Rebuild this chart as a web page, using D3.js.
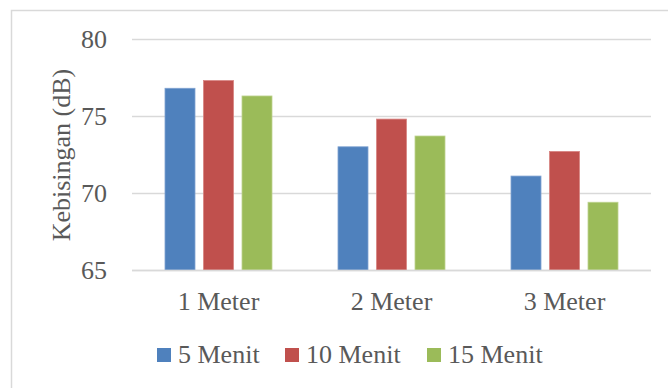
<!DOCTYPE html>
<html>
<head>
<meta charset="utf-8">
<script src="https://cdn.jsdelivr.net/npm/d3@7"></script>
<style>
  html, body { margin: 0; padding: 0; background: #fff; }
  svg { display: block; }
</style>
</head>
<body>
<svg id="chart" width="668" height="388"></svg>
<script>
// Noise level (dB) by distance and measurement duration
const categories = ["1 Meter", "2 Meter", "3 Meter"];
const seriesNames = ["5 Menit", "10 Menit", "15 Menit"];
const menit5 = [76.8, 73.0, 71.1];
const menit10 = [77.3, 74.8, 72.7];
const menit15 = [76.3, 73.7, 69.4];
const yTicks = [65, 70, 75, 80];
const colors = ["#4F81BD", "#C0504D", "#9BBB59"];
const edgeColors = ["#7fa2d1", "#d88482", "#bdd38f"];

const seriesValues = [menit5, menit10, menit15];
const FONT = "'Liberation Serif', 'Times New Roman', serif";
const TEXT_COLOR = "#595959";

const svg = d3.select("#chart");
const W = 668, H = 388;
const plot = { left: 132, right: 651, top: 39, bottom: 270 };

// chart frame
svg.append("rect")
  .attr("x", 11.5).attr("y", 10.5)
  .attr("width", W + 10).attr("height", H + 10)
  .attr("fill", "none").attr("stroke", "#d9d9d9").attr("stroke-width", 1.5);

const x0 = d3.scaleBand().domain(categories).range([plot.left, plot.right]);
const y = d3.scaleLinear().domain([65, 80]).range([plot.bottom, plot.top]);

// gridlines
svg.append("g").selectAll("line").data(yTicks).join("line")
  .attr("x1", plot.left).attr("x2", plot.right)
  .attr("y1", d => Math.round(y(d)) + 0.5).attr("y2", d => Math.round(y(d)) + 0.5)
  .attr("stroke", "#d9d9d9").attr("stroke-width", 1.5);

function label(sel) {
  return sel.attr("font-family", FONT).attr("font-size", 26).attr("fill", TEXT_COLOR);
}

// y tick labels
svg.append("g").selectAll("text").data(yTicks).join("text")
  .attr("x", 107).attr("y", d => y(d) + 9)
  .attr("text-anchor", "end")
  .call(label)
  .text(d => d);

// bars: 30px wide, 38.5px apart within each group
const barW = 30, step = 38.5;
const groups = svg.append("g").selectAll("g").data(categories).join("g");
groups.each(function(cat, ci) {
  const cx = x0(cat) + x0.bandwidth() / 2;
  d3.select(this).selectAll("rect")
    .data(seriesValues.map((s, si) => ({ v: s[ci], si })))
    .join("rect")
    .attr("x", d => cx + (d.si - 1) * step - barW / 2)
    .attr("width", barW)
    .attr("y", d => y(d.v))
    .attr("height", d => y(65) - y(d.v))
    .attr("fill", d => colors[d.si])
    .attr("stroke", d => edgeColors[d.si])
    .attr("stroke-width", 0.8);
});

// axis baseline
svg.append("line")
  .attr("x1", plot.left).attr("x2", plot.right)
  .attr("y1", plot.bottom + 0.5).attr("y2", plot.bottom + 0.5)
  .attr("stroke", "#d9d9d9").attr("stroke-width", 1.5);

// category labels
svg.append("g").selectAll("text").data(categories).join("text")
  .attr("x", d => x0(d) + x0.bandwidth() / 2)
  .attr("y", 310)
  .attr("text-anchor", "middle")
  .call(label)
  .text(d => d);

// y axis title
svg.append("text")
  .attr("transform", "translate(70,155) rotate(-90)")
  .attr("text-anchor", "middle")
  .call(label)
  .text("Kebisingan (dB)");

// legend
const legendX = [157, 285, 427];
const legend = svg.append("g").selectAll("g").data(seriesNames).join("g")
  .attr("transform", (d, i) => `translate(${legendX[i]},348)`);
legend.append("rect")
  .attr("width", 14).attr("height", 14)
  .attr("fill", (d, i) => colors[i]);
legend.append("text")
  .attr("x", 21).attr("y", 15)
  .call(label)
  .text(d => d);
</script>
</body>
</html>
